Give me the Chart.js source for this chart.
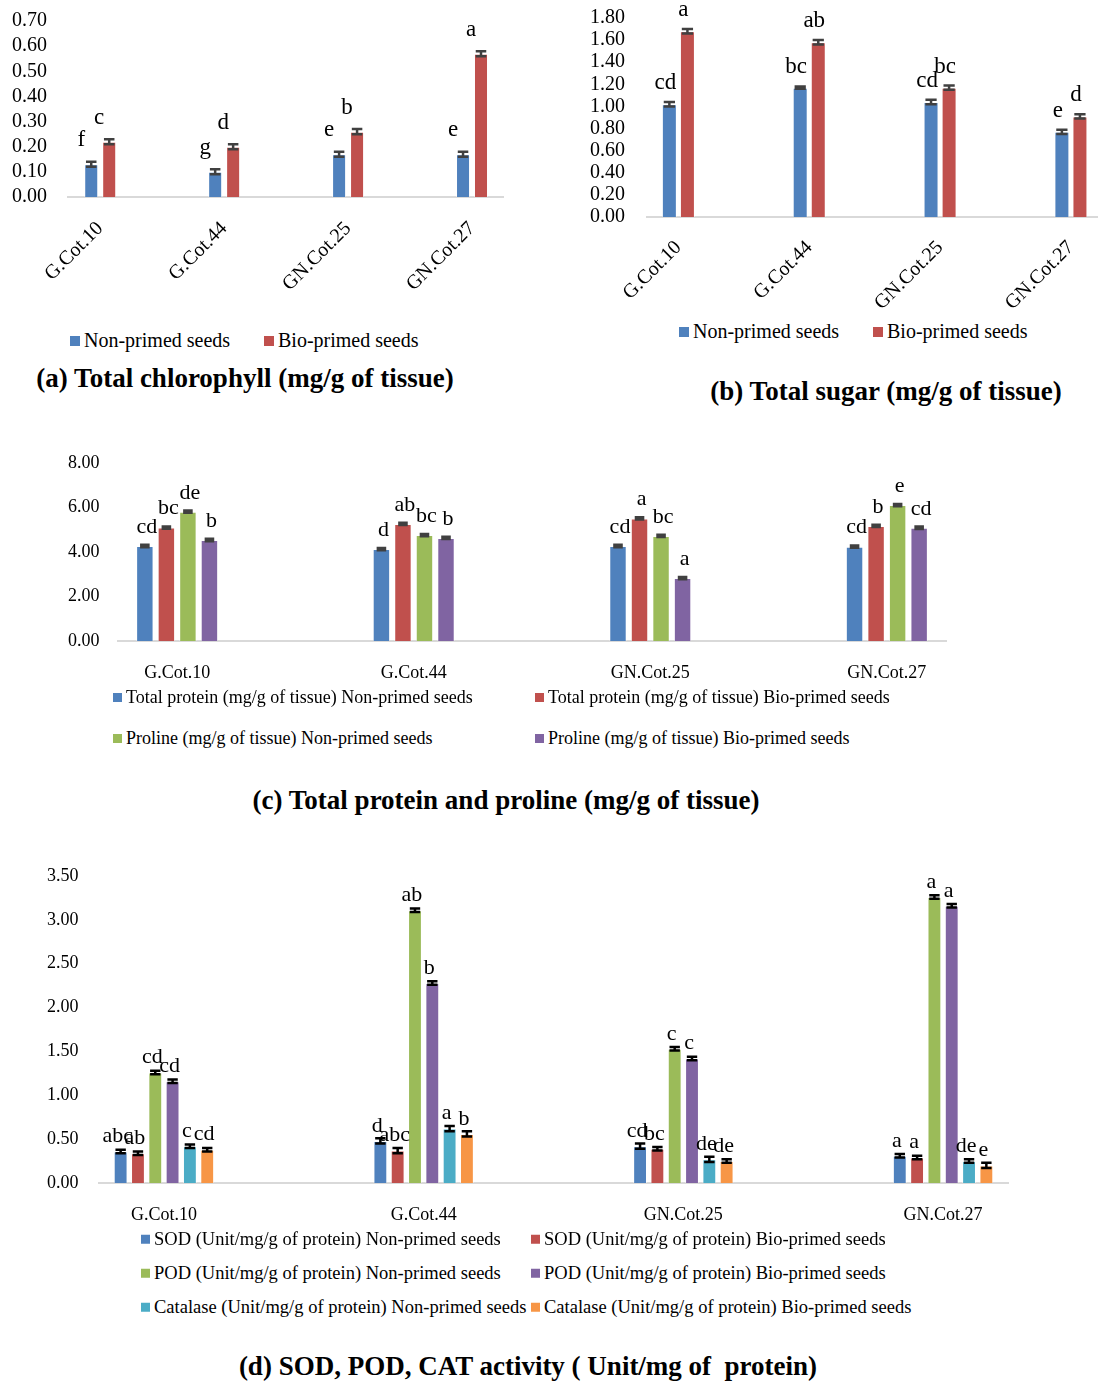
<!DOCTYPE html>
<html>
<head>
<meta charset="utf-8">
<script src="https://cdn.jsdelivr.net/npm/chart.js@4.4.1/dist/chart.umd.min.js"></script>
<style>
  body { margin: 0; background: #fff; width: 1098px; height: 1381px; position: relative; overflow: hidden;
         font-family: "Liberation Serif", "Times New Roman", serif; color: #000; }
  canvas { position: absolute; }
  .title { position: absolute; font-weight: bold; font-size: 27px; white-space: pre; transform: translate(-50%, -50%); }
  .legend-item { position: absolute; white-space: nowrap; transform: translateY(-50%); line-height: 1; }
  .legend-item i { display: inline-block; vertical-align: middle; margin-right: 4px; position: relative; top: -1px; }
</style>
</head>
<body>
<canvas id="chartA"></canvas>
<canvas id="chartB"></canvas>
<canvas id="chartC"></canvas>
<canvas id="chartD"></canvas>
<div class="title" style="left:245px;top:378px">(a) Total chlorophyll (mg/g of tissue)</div>
<div class="title" style="left:886px;top:391px">(b) Total sugar (mg/g of tissue)</div>
<div class="title" style="left:506px;top:800px">(c) Total protein and proline (mg/g of tissue)</div>
<div class="title" style="left:528px;top:1366px">(d) SOD, POD, CAT activity ( Unit/mg of  protein)</div>
<script>
const categories = ['G.Cot.10', 'G.Cot.44', 'GN.Cot.25', 'GN.Cot.27'];

// (a) total chlorophyll
const chlTicks = [0, 0.1, 0.2, 0.3, 0.4, 0.5, 0.6, 0.7];
const chlNonPrimed = [0.13, 0.10, 0.17, 0.17];
const chlBioPrimed = [0.22, 0.20, 0.26, 0.57];
const chlNonPrimedErr = [0.01, 0.01, 0.01, 0.01];
const chlBioPrimedErr = [0.01, 0.01, 0.01, 0.01];
const chlNonPrimedSig = ['f', 'g', 'e', 'e'];
const chlBioPrimedSig = ['c', 'd', 'b', 'a'];

// (b) total sugar
const sugarTicks = [0, 0.2, 0.4, 0.6, 0.8, 1.0, 1.2, 1.4, 1.6, 1.8];
const sugarNonPrimed = [1.02, 1.17, 1.04, 0.77];
const sugarBioPrimed = [1.68, 1.58, 1.17, 0.91];
const sugarNonPrimedErr = [0.02, 0.01, 0.02, 0.02];
const sugarBioPrimedErr = [0.02, 0.02, 0.02, 0.02];
const sugarNonPrimedSig = ['cd', 'bc', 'cd', 'e'];
const sugarBioPrimedSig = ['a', 'ab', 'bc', 'd'];

// (c) protein and proline
const protTicks = [0, 2, 4, 6, 8];
const proteinNonPrimed = [4.27, 4.13, 4.27, 4.24];
const proteinBioPrimed = [5.10, 5.26, 5.51, 5.17];
const prolineNonPrimed = [5.81, 4.76, 4.72, 6.11];
const prolineBioPrimed = [4.54, 4.63, 2.83, 5.09];
const proteinNonPrimedErr = [0.04, 0.04, 0.04, 0.04];
const proteinBioPrimedErr = [0.04, 0.04, 0.04, 0.04];
const prolineNonPrimedErr = [0.04, 0.04, 0.04, 0.04];
const prolineBioPrimedErr = [0.04, 0.04, 0.04, 0.04];
const proteinNonPrimedSig = ['cd', 'd', 'cd', 'cd'];
const proteinBioPrimedSig = ['bc', 'ab', 'a', 'b'];
const prolineNonPrimedSig = ['de', 'bc', 'bc', 'e'];
const prolineBioPrimedSig = ['b', 'b', 'a', 'cd'];

// (d) enzyme activity
const enzTicks = [0, 0.5, 1.0, 1.5, 2.0, 2.5, 3.0, 3.5];
const sodNonPrimed = [0.36, 0.48, 0.42, 0.31];
const sodBioPrimed = [0.34, 0.37, 0.39, 0.29];
const podNonPrimed = [1.26, 3.11, 1.53, 3.26];
const podBioPrimed = [1.16, 2.28, 1.42, 3.16];
const catNonPrimed = [0.42, 0.62, 0.27, 0.25];
const catBioPrimed = [0.38, 0.56, 0.25, 0.20];
const sodNonPrimedErr = [0.02, 0.03, 0.03, 0.02];
const sodBioPrimedErr = [0.02, 0.03, 0.02, 0.02];
const podNonPrimedErr = [0.02, 0.02, 0.02, 0.02];
const podBioPrimedErr = [0.02, 0.02, 0.02, 0.02];
const catNonPrimedErr = [0.02, 0.03, 0.03, 0.02];
const catBioPrimedErr = [0.02, 0.03, 0.02, 0.03];
const sodNonPrimedSig = ['abc', 'd', 'cd', 'a'];
const sodBioPrimedSig = ['ab', 'abc', 'bc', 'a'];
const podNonPrimedSig = ['cd', 'ab', 'c', 'a'];
const podBioPrimedSig = ['cd', 'b', 'c', 'a'];
const catNonPrimedSig = ['c', 'a', 'de', 'de'];
const catBioPrimedSig = ['cd', 'b', 'de', 'e'];

const BLUE = '#4f81bd', RED = '#c0504d', GREEN = '#9bbb59', PURPLE = '#8064a2', CYAN = '#4bacc6', ORANGE = '#f79646';
const SERIF = '"Liberation Serif", "Times New Roman", serif';

// error bars drawn from the y scale
const errorBars = {
  id: 'errorBars',
  afterDatasetsDraw(chart, args, opts) {
    const ctx = chart.ctx, y = chart.scales.y;
    ctx.save();
    ctx.strokeStyle = opts.color;
    ctx.lineWidth = opts.width;
    chart.data.datasets.forEach((ds, di) => {
      chart.getDatasetMeta(di).data.forEach((bar, i) => {
        const v = ds.data[i].y, e = ds.errors[i];
        const top = y.getPixelForValue(v + e), bot = y.getPixelForValue(v - e);
        const hw = bar.width * opts.cap / 2;
        ctx.beginPath();
        ctx.moveTo(bar.x, top); ctx.lineTo(bar.x, bot);
        ctx.moveTo(bar.x - hw, top); ctx.lineTo(bar.x + hw, top);
        ctx.moveTo(bar.x - hw, bot); ctx.lineTo(bar.x + hw, bot);
        ctx.stroke();
      });
    });
    ctx.restore();
  }
};

// significance letters above bars
const sigLetters = {
  id: 'sigLetters',
  afterDatasetsDraw(chart, args, opts) {
    const ctx = chart.ctx, y = chart.scales.y;
    ctx.save();
    ctx.font = opts.size + 'px ' + SERIF;
    ctx.fillStyle = '#000';
    ctx.textAlign = 'center';
    ctx.textBaseline = 'middle';
    chart.data.datasets.forEach((ds, di) => {
      chart.getDatasetMeta(di).data.forEach((bar, i) => {
        ctx.fillText(ds.letters[i], bar.x + opts.dx, y.getPixelForValue(ds.data[i].y) + opts.dy);
      });
    });
    ctx.restore();
  }
};

function makePanel(p) {
  const canvas = document.getElementById(p.id);
  canvas.width = p.w; canvas.height = p.h;
  canvas.style.left = p.left + 'px'; canvas.style.top = p.top + 'px';
  canvas.style.width = p.w + 'px'; canvas.style.height = p.h + 'px';

  const chart = new Chart(canvas, {
    type: 'bar',
    data: {
      datasets: p.series.map(s => ({
        label: s.label,
        data: s.values.map((v, i) => ({ x: i, y: v })),
        errors: s.err,
        letters: s.sig,
        backgroundColor: s.color,
        borderColor: 'rgba(255,255,255,0.45)',
        borderWidth: 1,
        categoryPercentage: p.catPct,
        barPercentage: p.barPct
      }))
    },
    options: {
      responsive: false,
      animation: false,
      layout: { padding: { left: p.padLeft, right: p.padRight, top: p.padTop, bottom: 0 } },
      plugins: {
        legend: { display: false },
        tooltip: { enabled: false },
        errorBars: p.errStyle,
        sigLetters: p.sigStyle
      },
      scales: {
        x: {
          type: 'linear', bounds: 'data', offset: false, min: p.xMin, max: p.xMax,
          grid: { display: false, drawTicks: false, offset: false },
          border: { color: '#d9d9d9', width: 2 },
          afterBuildTicks: s => { s.ticks = categories.map((c, i) => ({ value: i })); },
          afterFit: s => { s.height = p.xAxisH; },
          ticks: {
            callback: (v, i) => categories[i],
            font: { family: SERIF, size: p.xFont }, color: '#000',
            padding: p.xPad, autoSkip: false, maxRotation: p.rot, minRotation: p.rot
          }
        },
        y: {
          min: 0, max: p.ticks[p.ticks.length - 1],
          grid: { display: false, drawTicks: false },
          border: { display: false },
          afterBuildTicks: s => { s.ticks = p.ticks.map(v => ({ value: v })); },
          afterFit: s => { s.width = p.yAxisW; },
          ticks: {
            callback: v => Number(v).toFixed(2), autoSkip: false, crossAlign: 'far', padding: 0,
            font: { family: SERIF, size: p.yFont }, color: '#000'
          }
        }
      }
    },
    plugins: [errorBars, sigLetters]
  });

  // legend built from the chart's datasets
  const lg = p.legend;
  chart.data.datasets.forEach((ds, i) => {
    const el = document.createElement('div');
    el.className = 'legend-item';
    el.style.left = lg.cols[i % lg.cols.length] + 'px';
    el.style.top = lg.rows[Math.floor(i / lg.cols.length)] + 'px';
    el.style.fontSize = lg.size + 'px';
    el.innerHTML = '<i style="width:' + lg.box + 'px;height:' + lg.box + 'px;background:' + ds.backgroundColor + '"></i>' + ds.label;
    document.body.appendChild(el);
  });
  return chart;
}

makePanel({
  id: 'chartA', left: 0, top: 0, w: 520, h: 300,
  padLeft: 12, padTop: 21, padRight: 17, yAxisW: 56, xAxisH: 103,
  xMin: -0.26, xMax: 3.25, catPct: 0.29, barPct: 0.78,
  ticks: chlTicks, yFont: 20, xFont: 20, xPad: 20, rot: 45,
  errStyle: { color: '#404040', width: 2.5, cap: 0.75 },
  sigStyle: { size: 23, dx: -10, dy: -24 },
  legend: { cols: [70, 264], rows: [340], size: 20, box: 10 },
  series: [
    { label: 'Non-primed seeds', values: chlNonPrimed, err: chlNonPrimedErr, sig: chlNonPrimedSig, color: BLUE },
    { label: 'Bio-primed seeds', values: chlBioPrimed, err: chlBioPrimedErr, sig: chlBioPrimedSig, color: RED }
  ]
});

makePanel({
  id: 'chartB', left: 580, top: 0, w: 527, h: 320,
  padLeft: 10, padTop: 18, padRight: 2, yAxisW: 57, xAxisH: 103,
  xMin: -0.24, xMax: 3.2, catPct: 0.276, barPct: 0.83,
  ticks: sugarTicks, yFont: 20, xFont: 20, xPad: 19, rot: 45,
  errStyle: { color: '#404040', width: 2.5, cap: 0.75 },
  sigStyle: { size: 23, dx: -4, dy: -21 },
  legend: { cols: [679, 873], rows: [331], size: 20, box: 10 },
  series: [
    { label: 'Non-primed seeds', values: sugarNonPrimed, err: sugarNonPrimedErr, sig: sugarNonPrimedSig, color: BLUE },
    { label: 'Bio-primed seeds', values: sugarBioPrimed, err: sugarBioPrimedErr, sig: sugarBioPrimedSig, color: RED }
  ]
});

makePanel({
  id: 'chartC', left: 0, top: 440, w: 1000, h: 250,
  padLeft: 68, padTop: 23, padRight: 54, yAxisW: 50, xAxisH: 49,
  xMin: -0.25, xMax: 3.25, catPct: 0.364, barPct: 0.81,
  ticks: protTicks, yFont: 18, xFont: 18, xPad: 21, rot: 0,
  errStyle: { color: '#404040', width: 3, cap: 0.55 },
  sigStyle: { size: 22, dx: 2, dy: -19 },
  legend: { cols: [113, 535], rows: [697, 738], size: 18, box: 9 },
  series: [
    { label: 'Total protein (mg/g of tissue) Non-primed seeds', values: proteinNonPrimed, err: proteinNonPrimedErr, sig: proteinNonPrimedSig, color: BLUE },
    { label: 'Total protein (mg/g of tissue) Bio-primed seeds', values: proteinBioPrimed, err: proteinBioPrimedErr, sig: proteinBioPrimedSig, color: RED },
    { label: 'Proline (mg/g of tissue) Non-primed seeds', values: prolineNonPrimed, err: prolineNonPrimedErr, sig: prolineNonPrimedSig, color: GREEN },
    { label: 'Proline (mg/g of tissue) Bio-primed seeds', values: prolineBioPrimed, err: prolineBioPrimedErr, sig: prolineBioPrimedSig, color: PURPLE }
  ]
});

makePanel({
  id: 'chartD', left: 0, top: 850, w: 1040, h: 390,
  padLeft: 47, padTop: 26, padRight: 32, yAxisW: 52, xAxisH: 57,
  xMin: -0.25, xMax: 3.25, catPct: 0.40, barPct: 0.80,
  ticks: enzTicks, yFont: 18, xFont: 18, xPad: 21, rot: 0,
  errStyle: { color: '#000', width: 2.5, cap: 0.75 },
  sigStyle: { size: 22, dx: -3, dy: -15 },
  legend: { cols: [141, 531], rows: [1239, 1273, 1307], size: 18.5, box: 9 },
  series: [
    { label: 'SOD (Unit/mg/g of protein) Non-primed seeds', values: sodNonPrimed, err: sodNonPrimedErr, sig: sodNonPrimedSig, color: BLUE },
    { label: 'SOD (Unit/mg/g of protein) Bio-primed seeds', values: sodBioPrimed, err: sodBioPrimedErr, sig: sodBioPrimedSig, color: RED },
    { label: 'POD (Unit/mg/g of protein) Non-primed seeds', values: podNonPrimed, err: podNonPrimedErr, sig: podNonPrimedSig, color: GREEN },
    { label: 'POD (Unit/mg/g of protein) Bio-primed seeds', values: podBioPrimed, err: podBioPrimedErr, sig: podBioPrimedSig, color: PURPLE },
    { label: 'Catalase (Unit/mg/g of protein) Non-primed seeds', values: catNonPrimed, err: catNonPrimedErr, sig: catNonPrimedSig, color: CYAN },
    { label: 'Catalase (Unit/mg/g of protein) Bio-primed seeds', values: catBioPrimed, err: catBioPrimedErr, sig: catBioPrimedSig, color: ORANGE }
  ]
});
</script>
</body>
</html>
